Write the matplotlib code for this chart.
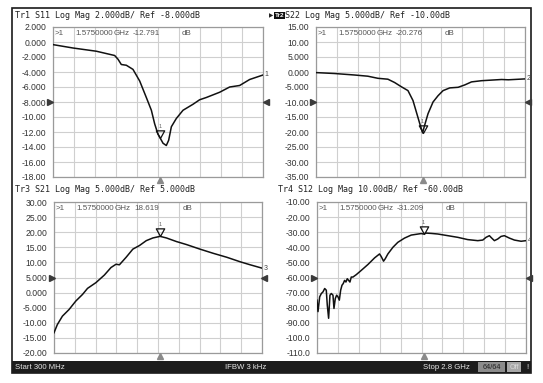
import matplotlib
matplotlib.use("Agg")
import matplotlib.pyplot as plt
from matplotlib.path import Path
from matplotlib.patches import Rectangle
from matplotlib.transforms import blended_transform_factory as blend

W, H = 543, 383

# ---------------- data ----------------
freq_start, freq_stop = 0.3, 2.8          # GHz
freq_grid = [0.3 + 0.25 * i for i in range(11)]
marker_freq = 1.575

s11_freq = [0.300, 0.538, 0.816, 1.034, 1.074, 1.113, 1.173, 1.252, 1.332, 1.411, 1.471,
            1.510, 1.550, 1.575, 1.610, 1.649, 1.677, 1.709, 1.768, 1.848, 1.967, 2.046,
            2.125, 2.284, 2.403, 2.522, 2.641, 2.800]
s11_db = [-0.35, -0.8, -1.23, -1.8, -2.3, -3.0, -3.1, -3.65, -5.2, -7.4, -9.1,
          -10.9, -12.3, -12.79, -13.5, -13.8, -13.1, -11.3, -10.2, -9.1, -8.3, -7.7,
          -7.4, -6.7, -6.0, -5.8, -5.0, -4.4]

s22_freq = [0.30, 0.52, 0.76, 0.92, 1.04, 1.16, 1.24, 1.32, 1.40, 1.46, 1.50, 1.54,
            1.575, 1.60, 1.64, 1.70, 1.76, 1.82, 1.90, 2.00, 2.08, 2.16, 2.28, 2.40,
            2.52, 2.60, 2.80]
s22_db = [-0.2, -0.5, -1.0, -1.4, -2.1, -2.4, -3.5, -4.9, -6.2, -9.5, -13.3, -17.1,
          -20.28, -17.7, -13.9, -10.0, -7.9, -6.2, -5.3, -5.1, -4.3, -3.3, -2.9, -2.7,
          -2.5, -2.6, -2.3]

s21_freq = [0.300, 0.340, 0.401, 0.481, 0.562, 0.643, 0.703, 0.804, 0.905, 0.985, 1.046,
            1.086, 1.167, 1.248, 1.328, 1.409, 1.489, 1.575, 1.651, 1.772, 1.893, 2.054,
            2.215, 2.377, 2.538, 2.659, 2.800]
s21_db = [-13.3, -10.6, -7.8, -5.6, -2.8, -0.6, 1.4, 3.3, 5.8, 8.3, 9.4,
          9.2, 11.7, 14.4, 15.6, 17.2, 18.1, 18.62, 18.1, 16.9, 15.9, 14.4,
          13.0, 11.7, 10.2, 9.2, 8.1]

s12_freq = [0.300, 0.312, 0.332, 0.352, 0.372, 0.392, 0.411, 0.423, 0.439, 0.455, 0.471,
            0.491, 0.503, 0.519, 0.535, 0.551, 0.567, 0.583, 0.599, 0.614, 0.630, 0.646,
            0.662, 0.678, 0.694, 0.710, 0.730, 0.770, 0.829, 0.909, 0.989, 1.048, 1.068,
            1.096, 1.116, 1.148, 1.208, 1.267, 1.347, 1.427, 1.546, 1.575, 1.606, 1.666,
            1.745, 1.865, 1.984, 2.103, 2.223, 2.283, 2.322, 2.362, 2.390, 2.422, 2.462,
            2.501, 2.541, 2.601, 2.661, 2.741, 2.800]
s12_db = [-75.0, -82.6, -72.8, -70.6, -69.5, -67.3, -68.4, -78.3, -87.0, -71.7, -70.6,
          -71.7, -80.5, -73.9, -71.7, -72.8, -75.0, -68.4, -65.1, -64.0, -61.9, -63.0,
          -60.8, -61.9, -63.0, -59.7, -59.7, -58.1, -55.3, -51.4, -47.0, -44.4, -46.1,
          -49.2, -47.6, -44.4, -40.0, -36.7, -33.9, -31.9, -30.9, -31.21, -30.6, -30.8,
          -31.2, -32.3, -33.4, -34.9, -35.6, -35.2, -33.4, -32.3, -33.9, -35.6, -34.5,
          -32.8, -32.3, -33.9, -35.2, -36.0, -35.6]

s11_ticks = [2, 0, -2, -4, -6, -8, -10, -12, -14, -16, -18]
s11_labels = ["2.000", "0.000", "-2.000", "-4.000", "-6.000", "-8.000", "-10.00",
              "-12.00", "-14.00", "-16.00", "-18.00"]
s22_ticks = [15, 10, 5, 0, -5, -10, -15, -20, -25, -30, -35]
s22_labels = ["15.00", "10.00", "5.000", "0.000", "-5.000", "-10.00", "-15.00",
              "-20.00", "-25.00", "-30.00", "-35.00"]
s21_ticks = [30, 25, 20, 15, 10, 5, 0, -5, -10, -15, -20]
s21_labels = ["30.00", "25.00", "20.00", "15.00", "10.00", "5.000", "0.000",
              "-5.000", "-10.00", "-15.00", "-20.00"]
s12_ticks = [-10, -20, -30, -40, -50, -60, -70, -80, -90, -100, -110]
s12_labels = ["-10.00", "-20.00", "-30.00", "-40.00", "-50.00", "-60.00", "-70.00",
              "-80.00", "-90.00", "-100.0", "-110.0"]

ref_levels = [-8.0, -10.0, 5.0, -60.0]
trace_names = ["Tr1", "Tr2", "Tr3", "Tr4"]
titles = ["S11 Log Mag 2.000dB/ Ref -8.000dB", "S22 Log Mag 5.000dB/ Ref -10.00dB",
          "S21 Log Mag 5.000dB/ Ref 5.000dB", "S12 Log Mag 10.00dB/ Ref -60.00dB"]
readouts = ["-12.791", "-20.276", "18.619", "-31.209"]
marker_vals = [-12.791, -20.276, 18.619, -31.209]

# ---------------- figure ----------------
fig = plt.figure(figsize=(W / 100, H / 100), dpi=100)
fig.patch.set_facecolor("white")

MONO = "DejaVu Sans Mono"
SANS = "Liberation Sans"

def px_rect(l, t, r, b):
    return [l / W, 1 - b / H, (r - l) / W, (b - t) / H]

panels = [
    dict(rect=(53, 27, 263, 177), f=s11_freq, v=s11_db, ticks=s11_ticks, labels=s11_labels,
         title_xy=(15, 15.5)),
    dict(rect=(316, 27, 525, 177), f=s22_freq, v=s22_db, ticks=s22_ticks, labels=s22_labels,
         title_xy=(285, 15.5)),
    dict(rect=(54, 202, 262, 353), f=s21_freq, v=s21_db, ticks=s21_ticks, labels=s21_labels,
         title_xy=(15, 190)),
    dict(rect=(317, 202, 526, 353), f=s12_freq, v=s12_db, ticks=s12_ticks, labels=s12_labels,
         title_xy=(278, 190)),
]

# overlay for frame / status bar
ov = fig.add_axes([0, 0, 1, 1], zorder=0)
ov.set_xlim(0, W)
ov.set_ylim(H, 0)
ov.axis("off")
ov.add_patch(Rectangle((12, 8), 519, 365, fill=False, edgecolor="#1a1a1a", lw=1.2))
ov.add_patch(Rectangle((12, 361), 519, 12, facecolor="#1c1c1c", edgecolor="none"))
ov.text(15, 367.5, "Start 300 MHz", color="#e6e6e6", fontsize=5.6, family=SANS,
        va="center", ha="left")
ov.text(225, 367.5, "IFBW 3 kHz", color="#e6e6e6", fontsize=5.6, family=SANS,
        va="center", ha="left")
ov.text(423, 367.5, "Stop 2.8 GHz", color="#e6e6e6", fontsize=5.6, family=SANS,
        va="center", ha="left")
ov.add_patch(Rectangle((478, 362), 27, 10, facecolor="#8c8c8c", edgecolor="none"))
ov.text(491.5, 367.5, "64/64", color="#202020", fontsize=5.2, family=SANS,
        va="center", ha="center")
ov.add_patch(Rectangle((507, 362), 14, 10, facecolor="#a8a8a8", edgecolor="none"))
ov.text(514, 367.5, "Off", color="#d8d8d8", fontsize=5.2, family=SANS,
        va="center", ha="center")
ov.text(527, 367.5, "!", color="#e6e6e6", fontsize=5.5, family=SANS,
        va="center", ha="center")

tri_path = Path([(0, 0), (-0.55, 1), (0.55, 1), (0, 0)],
                [Path.MOVETO, Path.LINETO, Path.LINETO, Path.CLOSEPOLY])

for i, p in enumerate(panels):
    l, t, r, b = p["rect"]
    ax = fig.add_axes(px_rect(l, t, r, b), zorder=2)
    ax.set_facecolor("white")
    ax.set_xlim(freq_start, freq_stop)
    ax.set_ylim(p["ticks"][-1], p["ticks"][0])
    ax.set_xticks(freq_grid)
    ax.set_xticklabels([])
    ax.set_yticks(p["ticks"])
    ax.set_yticklabels(p["labels"], fontsize=6.2, family=SANS, color="#333333")
    ax.tick_params(length=0, pad=5)
    ax.grid(True, color="#cfcfcf", lw=0.8)
    ax.set_axisbelow(True)
    for s in ax.spines.values():
        s.set_color("#9a9a9a")
        s.set_linewidth(0.9)

    ax.plot(p["f"], p["v"], color="#111111", lw=1.1, zorder=3)

    # marker triangle with tip on the trace
    ax.plot([marker_freq], [marker_vals[i]], marker=tri_path, markersize=11,
            markerfacecolor="none", markeredgecolor="#111111", mew=0.9, zorder=4,
            clip_on=False)
    ax.annotate("1", xy=(marker_freq, marker_vals[i]), xytext=(0, 6.5),
                textcoords="offset points", fontsize=4, color="#666666",
                ha="center", va="bottom", family=SANS)

    # marker readout
    pw = r - l
    ty = 1 - 3.0 / (b - t)
    rd = dict(transform=ax.transAxes, fontsize=5.8, family=SANS, color="#555555",
              va="top", ha="left")
    ax.text(2 / pw, ty, ">1", **rd)
    ax.text(22 / pw, ty, "1.5750000", **rd)
    ax.text(61 / pw, ty, "GHz", **rd)
    ax.text(80 / pw, ty, readouts[i], **rd)
    ax.text(129 / pw, ty, "dB", **rd)

    # reference-level arrows
    tr = blend(ax.transAxes, ax.transData)
    ax.plot([-0.012], [ref_levels[i]], transform=tr, marker=">", markersize=4.2,
            color="#3a3a3a", clip_on=False, zorder=5)
    ax.plot([1.012], [ref_levels[i]], transform=tr, marker="<", markersize=4.2,
            color="#3a3a3a", clip_on=False, zorder=5)

    # trace number at right end
    ax.annotate(str(i + 1), xy=(freq_stop, p["v"][-1]), xytext=(1, 0),
                textcoords="offset points", fontsize=5, color="#444444",
                ha="left", va="center", family=SANS, annotation_clip=False)

    # stimulus marker below
    trb = blend(ax.transData, ax.transAxes)
    ax.plot([marker_freq], [-0.022], transform=trb, marker="^", markersize=4.5,
            color="#8a8a8a", clip_on=False, zorder=5)

    # title
    tx, tyy = p["title_xy"]
    if i == 1:
        fig.text(269 / W, 1 - tyy / H, "\u25B6", fontsize=4, color="#222222",
                 va="center", ha="left", family="DejaVu Sans")
        fig.text(275 / W, 1 - tyy / H, trace_names[i], fontsize=4.6, color="white",
                 va="center", ha="left", family=SANS, fontweight="bold",
                 bbox=dict(boxstyle="square,pad=0.15", fc="#111111", ec="none"))
        fig.text(tx / W, 1 - tyy / H, titles[i], fontsize=6, color="#222222",
                 va="center", ha="left", family=MONO)
    else:
        fig.text(tx / W, 1 - tyy / H, trace_names[i] + " " + titles[i], fontsize=6,
                 color="#222222", va="center", ha="left", family=MONO)

fig.savefig("out.png", dpi=100, facecolor="white")
